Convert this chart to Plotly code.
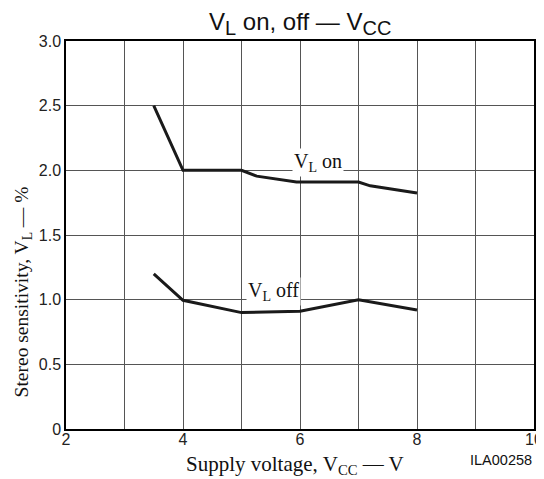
import plotly.graph_objects as go

# Curvas (V_CC en V, V_L en %)
vcc_on = [3.5, 4.0, 5.0, 5.26, 5.94, 7.0, 7.2, 8.0]
vl_on = [2.5, 2.0, 2.0, 1.955, 1.91, 1.91, 1.88, 1.825]

vcc_off = [3.5, 4.0, 5.0, 6.0, 7.0, 8.0]
vl_off = [1.2, 0.995, 0.9, 0.91, 1.0, 0.92]

x_ticks = [2, 3, 4, 5, 6, 7, 8, 9, 10]
x_ticktext = ["2", "", "4", "", "6", "", "8", "", "10"]
y_ticks = [0, 0.5, 1.0, 1.5, 2.0, 2.5, 3.0]
y_ticktext = ["0", "0.5", "1.0", "1.5", "2.0", "2.5", "3.0"]

SANS = "Liberation Sans, Arial, sans-serif"
SERIF = "Liberation Serif, Times New Roman, serif"
LINE = "#1a1a1a"

fig = go.Figure()
fig.add_trace(go.Scatter(x=vcc_on, y=vl_on, mode="lines",
                         line=dict(color=LINE, width=3)))
fig.add_trace(go.Scatter(x=vcc_off, y=vl_off, mode="lines",
                         line=dict(color=LINE, width=3)))

# etiquetas de las curvas con fondo blanco
fig.add_annotation(x=6.3, y=2.063, text="V<sub>L</sub> on", showarrow=False,
                   font=dict(family=SERIF, size=20, color="#111"),
                   bgcolor="white", borderpad=1)
fig.add_annotation(x=5.54, y=1.065, text="V<sub>L</sub> off", showarrow=False,
                   font=dict(family=SERIF, size=20, color="#111"),
                   bgcolor="white", borderpad=1)

# títulos (la página tiene 8 px de margen en el body, por eso la figura es 536x471)
fig.add_annotation(xref="paper", yref="paper", x=0.5, y=1, yanchor="bottom",
                   yshift=0,
                   text="V<sub><span style='font-size:20px'>L</span></sub> on, off — "
                        "V<sub><span style='font-size:20px'>CC</span></sub>",
                   showarrow=False, font=dict(family=SANS, size=24, color="#111"))
fig.add_annotation(xref="paper", yref="paper", x=0.49, y=0, yanchor="top",
                   yshift=-21, text="Supply voltage, V<sub>CC</sub> — V",
                   showarrow=False, font=dict(family=SERIF, size=21, color="#111"))
fig.add_annotation(xref="paper", yref="paper", x=1, y=0, xanchor="right",
                   yanchor="top", yshift=-21, text="ILA00258",
                   showarrow=False, font=dict(family=SANS, size=14.5, color="#111"))
fig.add_annotation(xref="paper", yref="paper", x=0, y=0.352, xanchor="center",
                   xshift=-43, textangle=-90,
                   text="Stereo sensitivity, V<sub>L</sub> — %",
                   showarrow=False, font=dict(family=SERIF, size=19.5, color="#111"))

axis_common = dict(showgrid=True, gridcolor="#555", gridwidth=1,
                   showline=True, linecolor="black", linewidth=1.5, mirror=True,
                   ticks="", ticklen=0, zeroline=False, automargin=False,
                   ticklabeloverflow="allow",
                   tickfont=dict(family=SANS, size=16, color="#222"))

fig.update_xaxes(range=[2, 10], tickvals=x_ticks, ticktext=x_ticktext,
                 ticklabelstandoff=-5, **axis_common)
fig.update_yaxes(range=[0, 3], tickvals=y_ticks, ticktext=y_ticktext,
                 **axis_common)

fig.update_layout(width=536, height=471, showlegend=False,
                  plot_bgcolor="white", paper_bgcolor="white",
                  margin=dict(l=58, r=10, t=33, b=50))

fig.write_html("out.html")
